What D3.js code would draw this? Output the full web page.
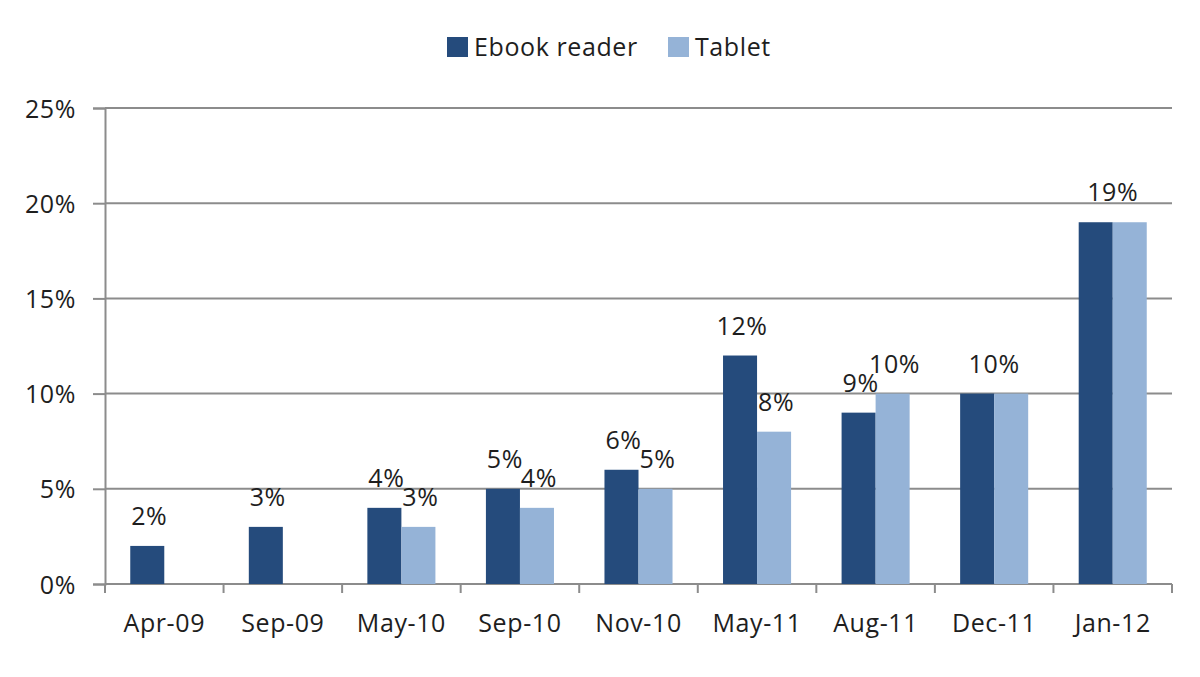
<!DOCTYPE html>
<html><head><meta charset="utf-8">
<script src="https://cdn.jsdelivr.net/npm/d3@7"></script>
<style>body{margin:0;background:#fff}svg{display:block}text{font-family:"Open Sans","Liberation Sans",sans-serif;fill:#1e1e1e;letter-spacing:0.6px}</style>
</head><body><svg id="c" width="1200" height="677"></svg>
<script>
const categories = ["Apr-09","Sep-09","May-10","Sep-10","Nov-10","May-11","Aug-11","Dec-11","Jan-12"];
const seriesNames = ["Ebook reader","Tablet"];
const ebookValues = [2,3,4,5,6,12,9,10,19];
const tabletValues = [null,null,3,4,5,8,10,10,19];
const yTicks = [0,5,10,15,20,25];
const colors = ["#254b7c","#95b3d7"];

(function(){
const svg = d3.select("#c");
const pL = 105, pR = 1172, pT = 108, pB = 584;
const x0 = d3.scaleBand().domain(categories).range([pL,pR]).padding(0);
const x1 = d3.scaleBand().domain(seriesNames).range([x0.step()*0.213, x0.step()*0.787]).padding(0);
const y = d3.scaleLinear().domain([0,25]).range([pB,pT]);
const color = d3.scaleOrdinal().domain(seriesNames).range(colors);
const fs = 25;

svg.append("g").selectAll("line").data(yTicks.filter(t=>t>0)).join("line")
  .attr("x1",pL).attr("x2",pR).attr("y1",d=>y(d)).attr("y2",d=>y(d))
  .attr("stroke","#8c8c8c").attr("stroke-width",2);

const ya = svg.append("g").attr("transform",`translate(${pL},0)`)
  .call(d3.axisLeft(y).tickValues(yTicks).tickFormat(d=>d+"%").tickSize(12).tickPadding(17));
ya.attr("font-family",null).attr("font-size",null);
ya.select(".domain").attr("stroke","#8c8c8c").attr("stroke-width",2);
ya.selectAll(".tick line").attr("stroke","#8c8c8c").attr("stroke-width",2);
ya.selectAll("text").style("font-size",fs+"px").attr("fill","#1e1e1e").attr("dy","0.36em");

svg.append("line").attr("x1",pL).attr("x2",pR).attr("y1",pB).attr("y2",pB)
  .attr("stroke","#8c8c8c").attr("stroke-width",2);
const bounds = categories.map(c=>x0(c)).concat([pR]);
svg.append("g").selectAll("line").data(bounds).join("line")
  .attr("x1",d=>d).attr("x2",d=>d).attr("y1",pB).attr("y2",pB+9)
  .attr("stroke","#8c8c8c").attr("stroke-width",2);
svg.append("g").selectAll("text").data(categories).join("text")
  .attr("x",d=>x0(d)+x0.bandwidth()/2).attr("y",632).attr("text-anchor","middle")
  .style("font-size",fs+"px").text(d=>d);

const rows = categories.map((c,i)=>({cat:c, vals:[ebookValues[i],tabletValues[i]]}));
const g = svg.append("g").selectAll("g").data(rows).join("g")
  .attr("transform",d=>`translate(${x0(d.cat)},0)`);
g.selectAll("rect").data(d=>d.vals.map((v,j)=>({s:seriesNames[j],v})).filter(e=>e.v!=null)).join("rect")
  .attr("x",d=>x1(d.s)).attr("width",x1.bandwidth())
  .attr("y",d=>y(d.v)).attr("height",d=>y(0)-y(d.v)).attr("fill",d=>color(d.s));

g.each(function(d){
  const gg = d3.select(this);
  const [a,b] = d.vals;
  if (b!=null && a===b){
    gg.append("text").attr("x",x0.bandwidth()/2).attr("y",y(a)-21).attr("text-anchor","middle")
      .style("font-size",fs+"px").text(a+"%");
  } else {
    d.vals.forEach((v,j)=>{
      if(v==null) return;
      gg.append("text").attr("x",x1(seriesNames[j])+x1.bandwidth()/2+2).attr("y",y(v)-21)
        .attr("text-anchor","middle").style("font-size",fs+"px").text(v+"%");
    });
  }
});

const lg = svg.append("g");
const legX = [447, 668];
seriesNames.forEach((s,i)=>{
  lg.append("rect").attr("x",legX[i]).attr("y",37).attr("width",21).attr("height",20).attr("fill",color(s));
  lg.append("text").attr("x",legX[i]+27).attr("y",56).style("font-size",fs+"px").text(s);
});
})();
</script></body></html>
